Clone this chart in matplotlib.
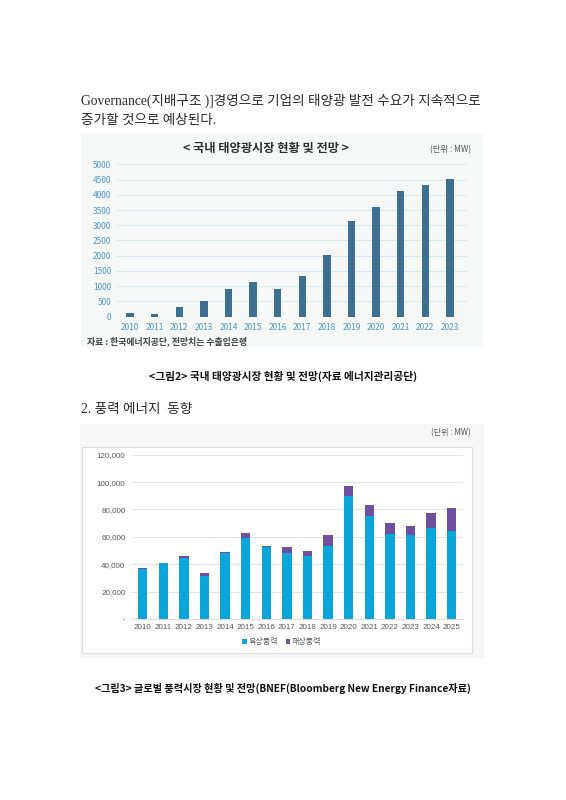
import matplotlib
matplotlib.use("Agg")
import matplotlib.pyplot as plt
from matplotlib.patches import Rectangle
from matplotlib.ticker import FuncFormatter

plt.rcParams['font.family'] = ['Noto Sans CJK KR', 'DejaVu Sans']

# ---------------- data ----------------
solar_years = ['2010', '2011', '2012', '2013', '2014', '2015', '2016',
               '2017', '2018', '2019', '2020', '2021', '2022', '2023']
solar_mw = [120, 100, 305, 520, 910, 1130, 910, 1330, 2030, 3140,
            3610, 4110, 4320, 4520]
solar_yticks = [0, 500, 1000, 1500, 2000, 2500, 3000, 3500, 4000, 4500, 5000]

wind_years = ['2010', '2011', '2012', '2013', '2014', '2015', '2016', '2017',
              '2018', '2019', '2020', '2021', '2022', '2023', '2024', '2025']
wind_onshore = [36300, 40900, 44400, 31700, 48500, 58800, 52400, 48000,
                46100, 53200, 90200, 75100, 62000, 61000, 66600, 64400]
wind_offshore = [1300, 300, 1500, 2000, 800, 4100, 800, 4700,
                 3700, 8000, 6600, 8300, 8000, 7000, 10700, 16600]
wind_yticks = [0, 20000, 40000, 60000, 80000, 100000, 120000]
wind_series = ['육상풍력', '해상풍력']

W, H = 566, 800
fig = plt.figure(figsize=(W / 100, H / 100), dpi=100)
fig.patch.set_facecolor('white')


def fx(x):
    return x / W


def fy(y):
    return 1 - y / H


def ax_px(l, t, r, b):
    return fig.add_axes([l / W, 1 - b / H, (r - l) / W, (b - t) / H])


def rect_px(l, t, r, b, fc, ec='none', lw=0, z=-5):
    fig.patches.append(Rectangle((l / W, 1 - b / H), (r - l) / W, (b - t) / H,
                                 transform=fig.transFigure, facecolor=fc,
                                 edgecolor=ec, linewidth=lw, zorder=z))


serif_kr = ['Liberation Serif', 'Noto Sans CJK KR']

# ---------------- body text ----------------
fig.text(fx(81), fy(101), 'Governance(지배구조 )]경영으로 기업의 태양광 발전 수요가 지속적으로',
         family=serif_kr, fontsize=9.8, color='#2b2b2b', va='center', ha='left')
fig.text(fx(81), fy(120), '증가할 것으로 예상된다.',
         family=serif_kr, fontsize=9.8, color='#2b2b2b', va='center', ha='left')

# ---------------- chart 1 ----------------
rect_px(81, 134, 483, 347, '#f6f7f7')
fig.text(fx(266), fy(148), '< 국내 태양광시장 현황 및 전망 >', fontsize=8.8,
         fontweight='bold', color='#2e2e2e', ha='center', va='center')
fig.text(fx(471), fy(150), '(단위 : MW)', fontsize=6, color='#555555',
         ha='right', va='center')

ax1 = ax_px(117, 164.3, 467, 316.7)
ax1.set_facecolor('none')
x1 = list(range(len(solar_years)))
ax1.bar(x1, solar_mw, width=0.30, color='#3d6f90', zorder=3)
ax1.set_xlim(-0.53, 13.69)
ax1.set_ylim(0, 5000)
ax1.set_yticks(solar_yticks)
ax1.set_xticks(x1)
ax1.set_xticklabels(solar_years)
ax1.grid(axis='y', color='#d6eaee', linewidth=0.7, zorder=0)
for s in ax1.spines.values():
    s.set_visible(False)
ax1.tick_params(axis='both', length=0, labelsize=6, labelcolor='#4f97c4')
ax1.tick_params(axis='y', pad=4.2)
ax1.tick_params(axis='x', pad=4.5)

fig.text(fx(87), fy(341), '자료 : 한국에너지공단, 전망치는 수출입은행', fontsize=6.4,
         fontweight='bold', color='#444444', ha='left', va='center')

fig.text(fx(283), fy(376), '<그림2> 국내 태양광시장 현황 및 전망(자료 에너지관리공단)',
         fontsize=7.7, fontweight='bold', color='#111111', ha='center', va='center')

fig.text(fx(81), fy(409), '2. 풍력 에너지  동향', family=serif_kr, fontsize=9.8,
         color='#2b2b2b', ha='left', va='center')

# ---------------- chart 2 ----------------
rect_px(80, 424, 484, 658, '#f6f6f6')
rect_px(82, 447, 472, 653, 'white', ec='#dddddd', lw=0.8, z=-4)
fig.text(fx(471), fy(433), '(단위 : MW)', fontsize=5.8, color='#555555',
         ha='right', va='center')

ax2 = ax_px(131.7, 454.7, 463, 619)
ax2.set_facecolor('none')
x2 = list(range(len(wind_years)))
b1 = ax2.bar(x2, wind_onshore, width=0.45, color='#0aa5d9', zorder=3,
             label=wind_series[0])
b2 = ax2.bar(x2, wind_offshore, width=0.45, bottom=wind_onshore,
             color='#6f4f9f', zorder=3, label=wind_series[1])
ax2.set_xlim(-0.534, 15.55)
ax2.set_ylim(0, 120000)
ax2.set_yticks(wind_yticks)
ax2.yaxis.set_major_formatter(FuncFormatter(lambda v, p: '-' if v == 0 else f'{int(v):,}'))
ax2.set_xticks(x2)
ax2.set_xticklabels(wind_years)
ax2.grid(axis='y', color='#e3e3e3', linewidth=0.7, zorder=0)
for s in ax2.spines.values():
    s.set_visible(False)
ax2.spines['bottom'].set_visible(True)
ax2.spines['bottom'].set_color('#d9d9d9')
ax2.spines['bottom'].set_linewidth(0.7)
ax2.tick_params(axis='both', length=0, labelsize=5.8, labelcolor='#595959')
for lab in ax2.get_xticklabels() + ax2.get_yticklabels():
    lab.set_family(['Liberation Sans', 'DejaVu Sans'])
ax2.tick_params(axis='y', pad=4.5)
ax2.tick_params(axis='x', pad=3.8)

leg = ax2.legend(handles=[b1, b2], loc='center', ncol=2, frameon=False,
                 bbox_to_anchor=(fx(282), fy(641.7)), bbox_transform=fig.transFigure,
                 fontsize=5.8, handlelength=0.55, handleheight=0.55,
                 handletextpad=0.2, columnspacing=1.0, labelcolor='#595959')

fig.text(fx(283), fy(688), '<그림3> 글로벌 풍력시장 현황 및 전망(BNEF(Bloomberg New Energy Finance자료)',
         fontsize=7.3, fontweight='bold', color='#111111', ha='center', va='center',
         family=['Noto Sans CJK KR', 'DejaVu Sans'])

fig.savefig('out.png', dpi=100, facecolor='white')
